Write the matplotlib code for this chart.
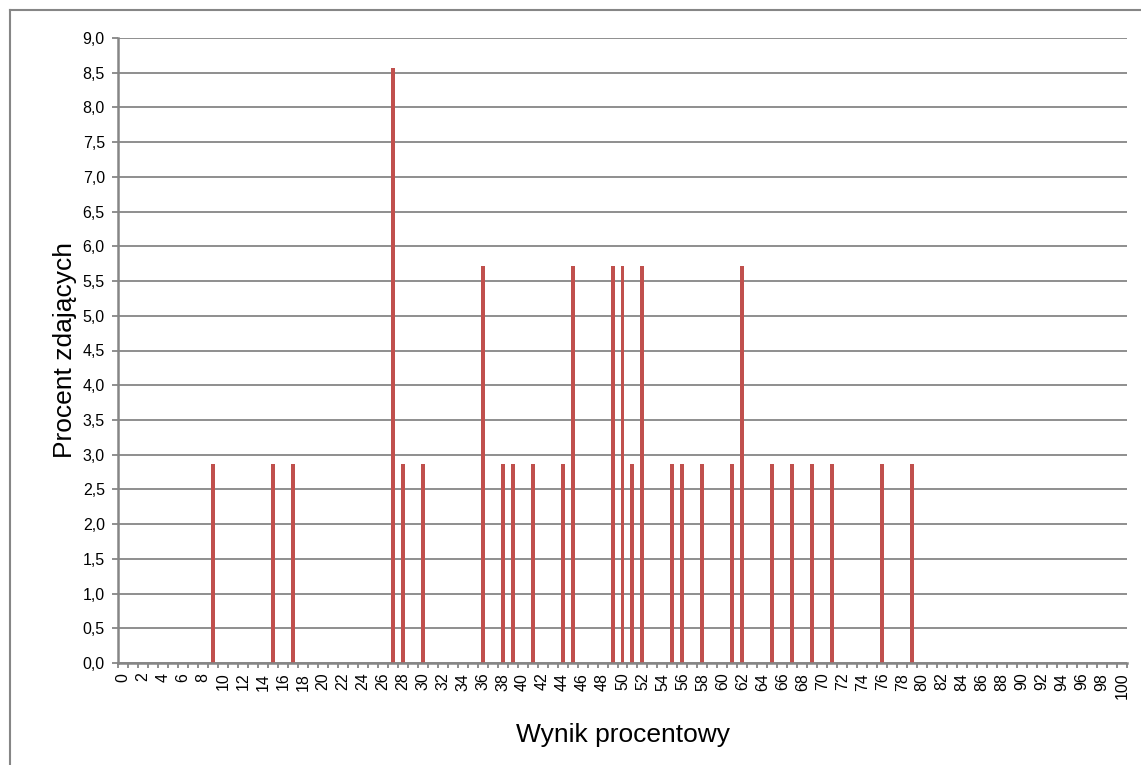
import matplotlib
matplotlib.use("Agg")
import matplotlib.pyplot as plt
from matplotlib.lines import Line2D
import numpy as np

plt.rcParams['font.family'] = ['Liberation Sans', 'DejaVu Sans']

# Data
categories = list(range(0, 101))
bar_scores = [9, 15, 17, 27, 28, 30, 36, 38, 39, 41, 44, 45, 49, 50, 51, 52,
              55, 56, 58, 61, 62, 65, 67, 69, 71, 76, 79]
bar_values = [2.86, 2.86, 2.86, 8.57, 2.86, 2.86, 5.71, 2.86, 2.86, 2.86, 2.86, 5.71,
              5.71, 5.71, 2.86, 5.71, 2.86, 2.86, 2.86, 2.86, 5.71, 2.86, 2.86, 2.86,
              2.86, 2.86, 2.86]
values = [0.0] * len(categories)
for s, v in zip(bar_scores, bar_values):
    values[categories.index(s)] = v
x_labels = [str(c) for c in categories]
y_ticks = [i * 0.5 for i in range(19)]
y_labels = [f"{t:.1f}".replace('.', ',') for t in y_ticks]
x_title = "Wynik procentowy"
y_title = "Procent zdających"

W, H = 1141, 765
fig = plt.figure(figsize=(W / 100, H / 100), dpi=100)
ax = fig.add_axes([118 / W, 1 - 663 / H, (1127 - 118) / W, (663 - 38) / H])

grid_c = '#868686'
pos = np.arange(len(categories))
ax.bar(pos, values, width=0.4, color='#C0504D', zorder=3)

ax.set_xlim(-0.5, len(categories) - 0.5)
ax.set_ylim(0, 9)
ax.set_yticks(y_ticks)
ax.set_yticklabels(y_labels, fontsize=11.5)
ax.yaxis.grid(True, color=grid_c, linewidth=1.3, zorder=0)

ax.set_xticks(pos[::2])
ax.set_xticklabels(x_labels[::2], rotation=90, fontsize=11.5)
ax.set_xticks(np.arange(-0.5, len(categories), 1.0), minor=True)
ax.tick_params(axis='x', which='major', length=0, pad=7)
ax.tick_params(axis='x', which='minor', length=3.6, color=grid_c, width=1.3, direction='out')
ax.tick_params(axis='y', length=4, color=grid_c, width=1.3, direction='out', pad=5.5)

for s in ['top', 'right']:
    ax.spines[s].set_visible(False)
for s in ['left', 'bottom']:
    ax.spines[s].set_color(grid_c)
    ax.spines[s].set_linewidth(1.8)
    ax.spines[s].set_zorder(4)

ax.set_xlabel(x_title, fontsize=19, labelpad=17)
ax.set_ylabel(y_title, fontsize=19, labelpad=4)

# outer frame (left and top edges)
fig.add_artist(Line2D([10 / W, 10 / W], [0, 1 - 10 / H], transform=fig.transFigure, color=grid_c, linewidth=1.5))
fig.add_artist(Line2D([10 / W, 1], [1 - 10 / H, 1 - 10 / H], transform=fig.transFigure, color=grid_c, linewidth=1.5))

fig.savefig('out.png', dpi=100)
